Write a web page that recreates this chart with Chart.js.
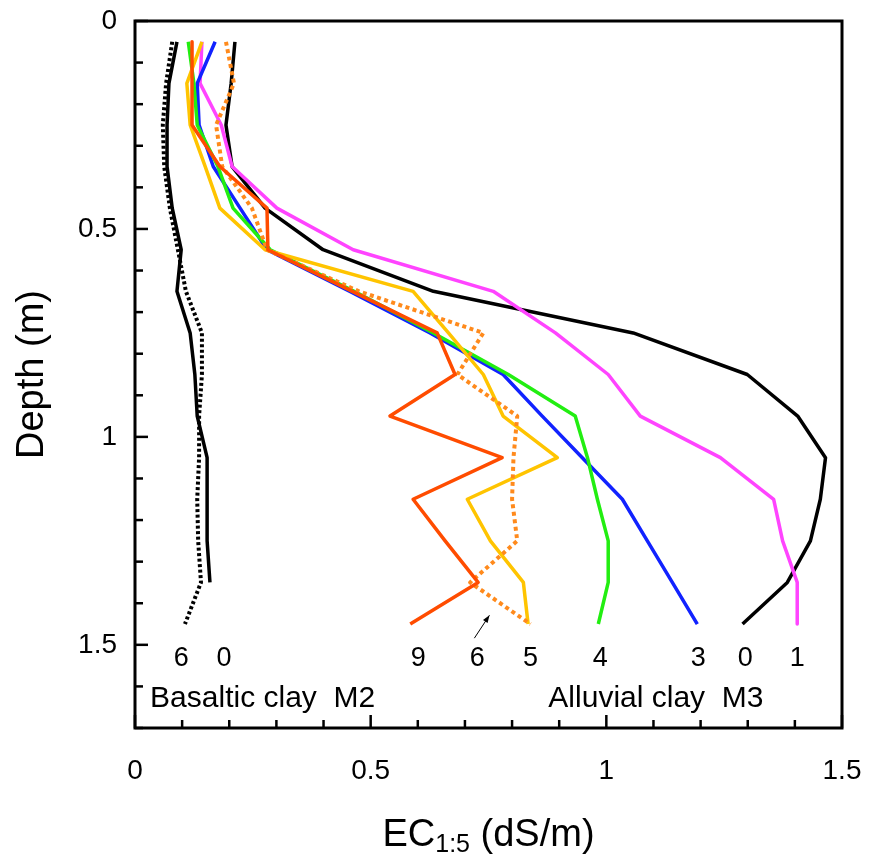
<!DOCTYPE html>
<html>
<head>
<meta charset="utf-8">
<script src="https://cdn.jsdelivr.net/npm/chart.js@4"></script>
<style>
  body { margin: 0; background: #fff; }
  #wrap { width: 872px; height: 859px; }
</style>
</head>
<body>
<div id="wrap"><canvas id="chart"></canvas></div>
<script>
// depth of each sample (m)
const depths = [0.05, 0.15, 0.25, 0.35, 0.45, 0.55, 0.65, 0.75, 0.85, 0.95, 1.05, 1.15, 1.25, 1.35, 1.45];

// Basaltic clay M2, EC1:5 (dS/m)
const basalt0 = [0.089, 0.072, 0.068, 0.068, 0.079, 0.098, 0.089, 0.117, 0.127, 0.132, 0.153, 0.153, 0.153, 0.159];
const basalt6 = [0.079, 0.066, 0.059, 0.062, 0.074, 0.091, 0.108, 0.142, 0.142, 0.136, 0.136, 0.132, 0.134, 0.140, 0.106];

// Alluvial clay M3, EC1:5 (dS/m)
const alluv0 = [0.212, 0.204, 0.193, 0.206, 0.276, 0.399, 0.633, 1.057, 1.299, 1.406, 1.465, 1.454, 1.433, 1.384, 1.289];
const alluv1 = [0.142, 0.138, 0.183, 0.206, 0.301, 0.463, 0.760, 0.892, 1.004, 1.072, 1.242, 1.355, 1.374, 1.405, 1.405];
const alluv3 = [0.170, 0.132, 0.136, 0.166, 0.223, 0.280, 0.456, 0.626, 0.781, 0.864, 0.949, 1.034, 1.087, 1.140, 1.193];
const alluv4 = [0.113, 0.125, 0.132, 0.176, 0.208, 0.287, 0.465, 0.633, 0.792, 0.934, 0.960, 0.981, 1.004, 1.004, 0.983];
const alluv5 = [0.142, 0.110, 0.117, 0.149, 0.180, 0.276, 0.590, 0.665, 0.739, 0.781, 0.896, 0.705, 0.754, 0.824, 0.834];
const alluv6 = [0.193, 0.210, 0.172, 0.185, 0.248, 0.280, 0.475, 0.739, 0.684, 0.811, 0.803, 0.800, 0.811, 0.711, 0.839];
const alluv9 = [0.121, 0.121, 0.121, 0.180, 0.280, 0.282, 0.461, 0.641, 0.679, 0.541, 0.779, 0.590, 0.658, 0.728, 0.584];

// curve labels at the foot of each profile
const curveLabels = ["6", "0", "9", "6", "5", "4", "3", "0", "1"];
const curveLabelX = [0.098, 0.189, 0.601, 0.726, 0.839, 0.987, 1.195, 1.295, 1.405];
const axisTicks = [0, 0.5, 1, 1.5];

const FONT = "'Liberation Sans', Arial, sans-serif";

function pts(vals) {
  return vals.map((v, i) => ({ x: v, y: depths[i] }));
}

function series(label, vals, color, dash, width) {
  return {
    label: label,
    data: pts(vals),
    borderColor: color,
    backgroundColor: color,
    borderWidth: width || 3.5,
    borderDash: dash || [],
    borderCapStyle: "butt",
    borderJoinStyle: "round",
    pointRadius: 0,
    showLine: true,
    tension: 0,
    fill: false,
  };
}

const sets = [
  series("Alluvial 9", alluv9, "#ff4c00"),
  series("Alluvial 6", alluv6, "#ff8a1c", [4, 3.5], 4),
  series("Alluvial 5", alluv5, "#ffc400"),
  series("Alluvial 4", alluv4, "#22ee11"),
  series("Alluvial 3", alluv3, "#1122ff"),
  series("Alluvial 1", alluv1, "#ff44ff"),
  series("Alluvial 0", alluv0, "#000000"),
  series("Basaltic 0", basalt0, "#000000"),
  series("Basaltic 6", basalt6, "#000000", [3, 2.5], 4),
];

function line(ctx, x1, y1, x2, y2) {
  ctx.beginPath();
  ctx.moveTo(x1, y1);
  ctx.lineTo(x2, y2);
  ctx.stroke();
}

const decor = {
  id: "decor",
  afterDraw(chart) {
    const { ctx, chartArea: a } = chart;
    const x = chart.scales.x, y = chart.scales.y;
    ctx.save();
    ctx.strokeStyle = "#000";
    ctx.fillStyle = "#000";

    // frame
    ctx.lineWidth = 3;
    ctx.strokeRect(a.left, a.top, a.right - a.left, a.bottom - a.top);

    // inward tick marks
    ctx.lineWidth = 2.5;
    for (let i = 0; i <= 17; i++) {
      const py = y.getPixelForValue(i / 10);
      line(ctx, a.left, py, a.left + (i % 5 === 0 ? 13 : 8), py);
    }
    for (let i = 0; i <= 15; i++) {
      const px = x.getPixelForValue(i / 10);
      line(ctx, px, a.bottom, px, a.bottom - (i % 5 === 0 ? 13 : 8));
    }

    // curve numbers
    ctx.textAlign = "center";
    ctx.textBaseline = "middle";
    ctx.font = "27px " + FONT;
    const ly = y.getPixelForValue(1.533);
    curveLabels.forEach((t, i) => ctx.fillText(t, x.getPixelForValue(curveLabelX[i]), ly));

    // soil labels
    ctx.font = "30px " + FONT;
    ctx.textAlign = "left";
    const sy = y.getPixelForValue(1.629);
    ctx.fillText("Basaltic clay  M2", x.getPixelForValue(0.032), sy);
    ctx.fillText("Alluvial clay  M3", x.getPixelForValue(0.877), sy);

    // small arrow to the 6-year curve
    const ax1 = x.getPixelForValue(0.720), ay1 = y.getPixelForValue(1.484);
    const ax2 = x.getPixelForValue(0.752), ay2 = y.getPixelForValue(1.429);
    ctx.lineWidth = 1;
    line(ctx, ax1, ay1, ax2, ay2);
    const ang = Math.atan2(ay2 - ay1, ax2 - ax1);
    ctx.beginPath();
    ctx.moveTo(ax2, ay2);
    ctx.lineTo(ax2 - 8 * Math.cos(ang - 0.35), ay2 - 8 * Math.sin(ang - 0.35));
    ctx.lineTo(ax2 - 8 * Math.cos(ang + 0.35), ay2 - 8 * Math.sin(ang + 0.35));
    ctx.closePath();
    ctx.fill();

    // x axis title with subscript
    const big = "38px " + FONT, small = "25px " + FONT;
    ctx.textBaseline = "alphabetic";
    ctx.font = big;
    const w1 = ctx.measureText("EC").width;
    const w3 = ctx.measureText(" (dS/m)").width;
    ctx.font = small;
    const w2 = ctx.measureText("1:5").width;
    let tx = (a.left + a.right) / 2 - (w1 + w2 + w3) / 2;
    const base = 846;
    ctx.font = big;
    ctx.fillText("EC", tx, base);
    tx += w1;
    ctx.font = small;
    ctx.fillText("1:5", tx, base + 6);
    tx += w2;
    ctx.font = big;
    ctx.fillText(" (dS/m)", tx, base);
    ctx.restore();
  },
};

new Chart(document.getElementById("chart"), {
  type: "scatter",
  data: { datasets: sets },
  plugins: [decor],
  options: {
    responsive: true,
    maintainAspectRatio: false,
    animation: false,
    layout: { padding: { top: 21, right: 30, left: 0, bottom: 0 } },
    plugins: { legend: { display: false }, tooltip: { enabled: false } },
    scales: {
      x: {
        type: "linear",
        min: 0,
        max: 1.5,
        grid: { display: false, drawTicks: false },
        border: { display: false },
        afterBuildTicks: (s) => { s.ticks = axisTicks.map((v) => ({ value: v })); },
        ticks: {
          color: "#000",
          font: { family: FONT, size: 28 },
          padding: 26,
          maxRotation: 0,
          callback: (v) => String(v),
        },
        afterFit: (s) => {
          s.height = 131;
          s.paddingLeft = 0;
          s.paddingRight = 0;
        },
      },
      y: {
        type: "linear",
        reverse: true,
        min: 0,
        max: 1.7,
        grid: { display: false, drawTicks: false },
        border: { display: false },
        afterBuildTicks: (s) => { s.ticks = axisTicks.map((v) => ({ value: v })); },
        ticks: {
          color: "#000",
          font: { family: FONT, size: 28 },
          padding: 18,
          callback: (v) => String(v),
        },
        title: {
          display: true,
          text: "Depth (m)",
          color: "#000",
          font: { family: FONT, size: 38 },
          padding: { top: 10, bottom: 0 },
        },
        afterFit: (s) => {
          s.width = 135;
          s.paddingTop = 0;
          s.paddingBottom = 0;
        },
      },
    },
  },
});
</script>
</body>
</html>
